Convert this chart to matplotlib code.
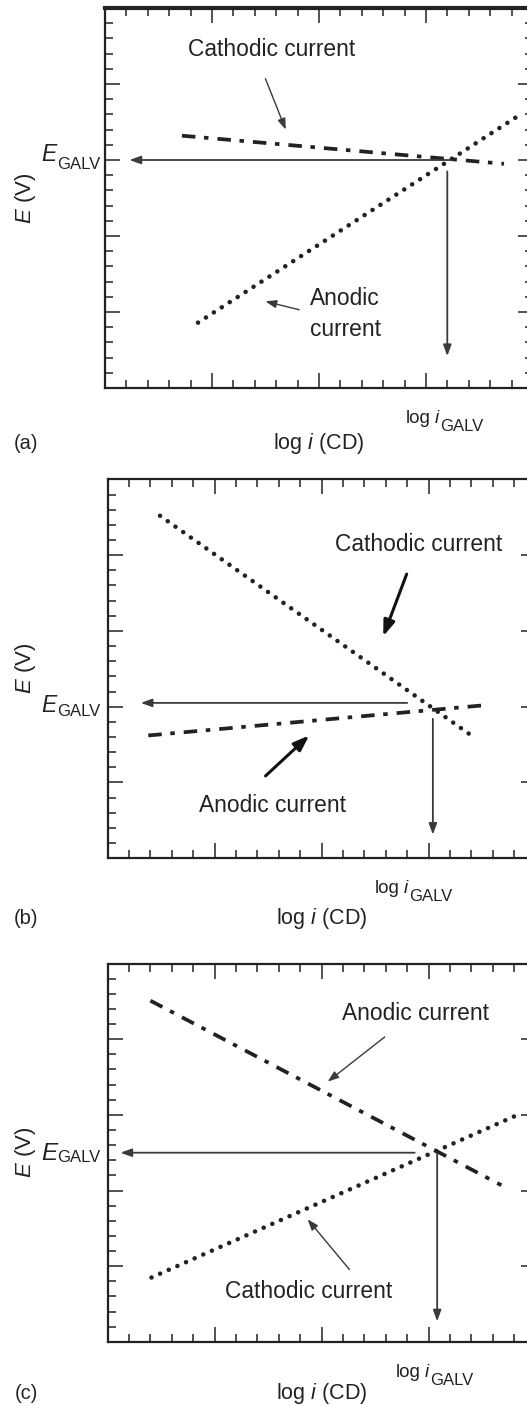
import matplotlib
matplotlib.use("Agg")
import matplotlib.pyplot as plt
from matplotlib.ticker import MultipleLocator

plt.rcParams['font.family'] = ['Liberation Sans', 'DejaVu Sans']
plt.rcParams['mathtext.fontset'] = 'custom'
plt.rcParams['mathtext.rm'] = 'Liberation Sans'
plt.rcParams['mathtext.it'] = 'Liberation Sans:italic'

INK = '#222222'
ARROW = '#3a3a3a'
DPI = 100
PT = 72.0 / DPI   # points per pixel

# (a) flat cathodic line, steep anodic line
a_cath_x = [0.72, 3.73]
a_cath_y = [3.32, 2.95]
a_anod_x = [0.87, 3.84]
a_anod_y = [0.86, 3.56]
a_e_galv = 3.0
a_e_arrow = [3.23, 0.23]
a_i_galv = 3.20
a_i_arrow = [2.85, 0.42]

# (b) steep cathodic line, flat anodic line
b_cath_x = [0.49, 3.42]
b_cath_y = [4.52, 1.60]
b_anod_x = [0.38, 3.53]
b_anod_y = [1.62, 2.02]
b_e_galv = 2.0
b_e_line = 2.05
b_e_arrow = [2.80, 0.31]
b_i_galv = 3.04
b_i_arrow = [1.84, 0.31]

# (c) both lines with similar slopes
c_anod_x = [0.40, 3.68]
c_anod_y = [4.51, 2.07]
c_cath_x = [0.41, 3.80]
c_cath_y = [0.85, 2.98]
c_e_galv = 2.5
c_e_arrow = [2.87, 0.12]
c_i_galv = 3.08
c_i_arrow = [2.49, 0.27]

LABEL_SIZE = 16.4
DOTTED = dict(lw=3.3, color=INK, linestyle=(0, (0.01, 2.05)),
              dash_capstyle='round', solid_capstyle='round')
DASHDOT = dict(lw=2.7, color=INK, linestyle=(0, (3.6, 2.3, 1.2, 2.4)),
               dash_capstyle='butt')


def setup_axes(rect, top_lw=1.6):
    ax = fig.add_axes(rect)
    ax.set_xlim(0, 4)
    ax.set_ylim(0, 5)
    ax.xaxis.set_major_locator(MultipleLocator(1))
    ax.xaxis.set_minor_locator(MultipleLocator(0.2))
    ax.yaxis.set_major_locator(MultipleLocator(1))
    ax.yaxis.set_minor_locator(MultipleLocator(0.2))
    ax.tick_params(which='both', direction='in', top=True, right=True,
                   labelbottom=False, labelleft=False, color=INK, width=1.1)
    ax.tick_params(which='major', length=10.5)
    ax.tick_params(which='minor', length=5.8)
    for side in ax.spines.values():
        side.set_linewidth(1.6)
        side.set_color(INK)
    ax.spines['top'].set_linewidth(top_lw)
    return ax


def arrow(ax, tail, tip, lw=1.0, scale=12, color=ARROW):
    ax.annotate('', xy=tip, xytext=tail,
                arrowprops=dict(arrowstyle='-|>,head_length=0.55,head_width=0.2',
                                lw=lw, color=color, mutation_scale=scale,
                                shrinkA=0, shrinkB=0))


def galv_arrows(ax, e_line, e_arrow, i_galv, i_arrow):
    arrow(ax, (e_arrow[0], e_line), (e_arrow[1], e_line), lw=1.3)
    arrow(ax, (i_galv, i_arrow[0]), (i_galv, i_arrow[1]), lw=1.3)


def e_galv_label(ax, e_val, gap_px, rise_px, e_size):
    sub = ax.annotate('GALV', xy=(0, e_val), xycoords=('axes fraction', 'data'),
                      xytext=(-gap_px * PT, -9 * PT), textcoords='offset points',
                      ha='right', va='baseline', fontsize=12, color=INK)
    ax.annotate('E', xy=(0, 0), xycoords=sub, xytext=(-0.3, rise_px * PT),
                textcoords='offset points', ha='right', va='bottom',
                fontstyle='italic', fontsize=e_size, color=INK)


def i_galv_label(ax, x_left):
    log = ax.annotate('log', xy=(x_left, 0), xycoords=('data', 'axes fraction'),
                      xytext=(0, -35 * PT), textcoords='offset points',
                      ha='left', va='baseline', fontsize=13.5, color=INK)
    ital = ax.annotate('i', xy=(1, 0), xycoords=log, xytext=(4 * PT, 0),
                       textcoords='offset points', ha='left', va='bottom',
                       fontstyle='italic', fontsize=13.5, color=INK)
    ax.annotate('GALV', xy=(1, 0), xycoords=ital, xytext=(1.5 * PT, -7 * PT),
                textcoords='offset points', ha='left', va='bottom',
                fontsize=12, color=INK)


def frame_labels(ax, letter, left_px, below_px):
    ax.annotate(r'log $i$ (CD)', xy=(2.0, 0), xycoords=('data', 'axes fraction'),
                xytext=(0, -below_px * PT), textcoords='offset points',
                ha='center', va='center', fontsize=15.5, color=INK)
    ax.annotate(letter, xy=(0, 0), xycoords='axes fraction',
                xytext=(-left_px * PT, -below_px * PT), textcoords='offset points',
                ha='center', va='center', fontsize=14.5, color=INK)
    ax.annotate(r'$E$ (V)', xy=(0, 0.5), xycoords='axes fraction',
                xytext=(-left_px * PT, 0), textcoords='offset points',
                ha='center', va='center', rotation=90, fontsize=16, color=INK)


W, H = 527, 1406
fig = plt.figure(figsize=(W / DPI, H / DPI), dpi=DPI)

# ---- (a) ----
ax = setup_axes([104.9 / W, 1 - 388 / H, 428 / W, 380 / H], top_lw=3.0)
ax.plot(a_cath_x, a_cath_y, **DASHDOT)
ax.plot(a_anod_x, a_anod_y, **DOTTED)
galv_arrows(ax, a_e_galv, a_e_arrow, a_i_galv, a_i_arrow)
ax.text(1.555, 4.45, 'Cathodic current', ha='center', va='center',
        fontsize=LABEL_SIZE, color=INK)
arrow(ax, (1.50, 4.07), (1.69, 3.40))
ax.text(2.245, 0.97, 'Anodic\ncurrent', ha='center', va='center', multialignment='left',
        linespacing=1.45, fontsize=LABEL_SIZE, color=INK)
arrow(ax, (1.815, 1.03), (1.50, 1.14))
e_galv_label(ax, a_e_galv, 5, 6, 16.5)
i_galv_label(ax, a_i_galv - 0.39)
frame_labels(ax, '(a)', 79, 56)

# ---- (b) ----
ax = setup_axes([107.6 / W, 1 - 858.2 / H, 428 / W, 378.8 / H])
ax.plot(b_cath_x, b_cath_y, **DOTTED)
ax.plot(b_anod_x, b_anod_y, **DASHDOT)
galv_arrows(ax, b_e_line, b_e_arrow, b_i_galv, b_i_arrow)
ax.text(2.91, 4.14, 'Cathodic current', ha='center', va='center',
        fontsize=LABEL_SIZE, color=INK)
arrow(ax, (2.795, 3.75), (2.576, 2.93), lw=2.2, scale=17, color='#111111')
ax.text(1.54, 0.70, 'Anodic current', ha='center', va='center',
        fontsize=LABEL_SIZE, color=INK)
arrow(ax, (1.476, 1.086), (1.884, 1.62), lw=2.2, scale=17, color='#111111')
e_galv_label(ax, b_e_galv, 7, 2, 16.5)
i_galv_label(ax, b_i_galv - 0.54)
frame_labels(ax, '(b)', 81.6, 60.5)

# ---- (c) ----
ax = setup_axes([107.6 / W, 1 - 1341.8 / H, 428 / W, 378.2 / H])
ax.plot(c_anod_x, c_anod_y, **DASHDOT)
ax.plot(c_cath_x, c_cath_y, **DOTTED)
galv_arrows(ax, c_e_galv, c_e_arrow, c_i_galv, c_i_arrow)
ax.text(2.874, 4.335, 'Anodic current', ha='center', va='center',
        fontsize=LABEL_SIZE, color=INK)
arrow(ax, (2.59, 4.03), (2.057, 3.44))
ax.text(1.876, 0.66, 'Cathodic current', ha='center', va='center',
        fontsize=LABEL_SIZE, color=INK)
arrow(ax, (2.26, 0.956), (1.869, 1.62))
e_galv_label(ax, c_e_galv, 7, 0, 17.5)
i_galv_label(ax, c_i_galv - 0.39)
frame_labels(ax, '(c)', 81.6, 52)

fig.savefig('out.png', dpi=DPI)
